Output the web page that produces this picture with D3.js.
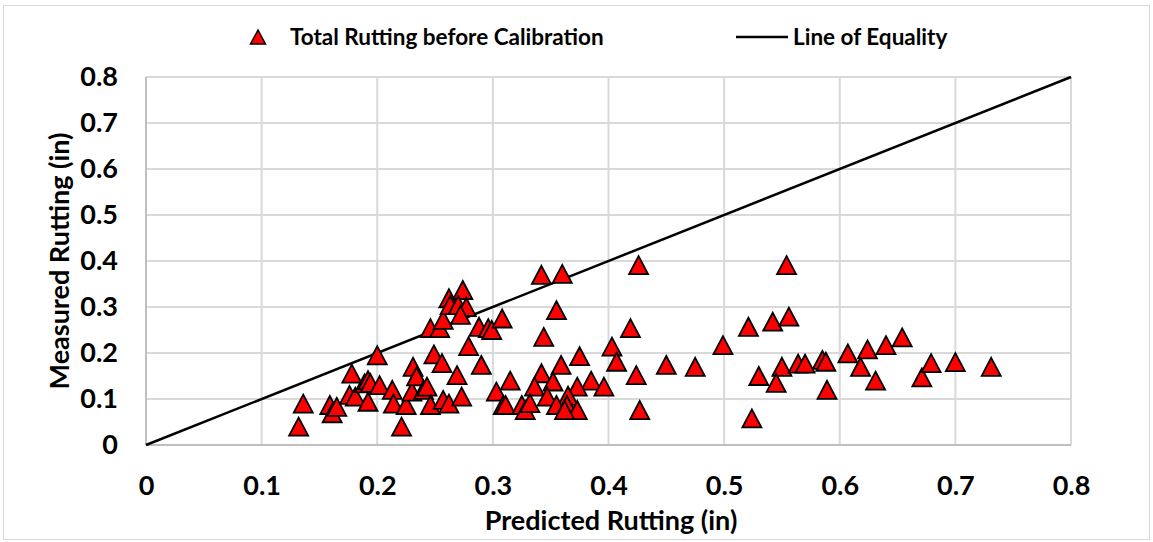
<!DOCTYPE html>
<html><head><meta charset="utf-8">
<script src="https://cdn.jsdelivr.net/npm/d3@7"></script>
<style>
html,body{margin:0;padding:0;background:#fff;}
svg{display:block;font-family:Lato,"Open Sans",sans-serif;}
</style></head><body>
<svg id="chart" width="1153" height="542"></svg>
<script>
const seriesName = "Total Rutting before Calibration";
const lineName = "Line of Equality";
const xTicks = [0,0.1,0.2,0.3,0.4,0.5,0.6,0.7,0.8];
const yTicks = [0,0.1,0.2,0.3,0.4,0.5,0.6,0.7,0.8];
const equalityLine = [[0,0],[0.8,0.8]];
const predicted = [
 0.132,0.136,0.159,0.161,0.165,0.178,0.176,0.181,0.189,0.192,0.194,0.200,0.202,0.192,0.213,0.214,0.221,0.225,0.230,0.231,
 0.234,0.240,0.243,0.246,0.249,0.256,0.269,0.257,0.262,0.273,0.246,0.254,0.257,0.262,0.263,0.274,0.270,0.277,0.272,0.288,
 0.296,0.299,0.308,0.279,0.290,0.303,0.309,0.342,0.360,0.355,0.344,0.375,0.359,0.342,0.385,0.352,0.336,0.373,0.315,0.347,
 0.365,0.311,0.325,0.328,0.332,0.355,0.364,0.373,0.362,0.426,0.419,0.403,0.407,0.424,0.396,0.427,0.450,0.475,0.499,0.521,
 0.542,0.556,0.554,0.530,0.550,0.545,0.524,0.564,0.570,0.585,0.588,0.589,0.607,0.618,0.624,0.631,0.640,0.654,0.671,0.679,
 0.700,0.731
];
const measured = [
 0.040,0.090,0.087,0.069,0.083,0.155,0.109,0.105,0.134,0.141,0.135,0.195,0.130,0.094,0.120,0.090,0.040,0.087,0.116,0.170,
 0.149,0.120,0.127,0.087,0.197,0.178,0.152,0.098,0.090,0.105,0.254,0.254,0.272,0.319,0.304,0.337,0.304,0.300,0.283,0.257,
 0.254,0.250,0.275,0.215,0.174,0.116,0.087,0.370,0.372,0.293,0.235,0.193,0.174,0.156,0.140,0.138,0.127,0.127,0.140,0.105,
 0.107,0.087,0.087,0.076,0.091,0.087,0.087,0.076,0.076,0.391,0.254,0.214,0.181,0.152,0.127,0.076,0.174,0.170,0.217,0.257,
 0.268,0.279,0.391,0.150,0.170,0.135,0.058,0.177,0.177,0.185,0.181,0.120,0.199,0.170,0.208,0.140,0.217,0.234,0.147,0.178,
 0.180,0.170
];

const svg = d3.select("#chart");
const m = {left:146, top:77, right:1071, bottom:445};
const FONT = "Lato, 'Open Sans', sans-serif";

svg.append("rect").attr("x",3.5).attr("y",5.5).attr("width",1146).attr("height",534)
  .attr("fill","#fff").attr("stroke","#d9d9d9").attr("stroke-width",1);

const x = d3.scaleLinear().domain([0,0.8]).range([m.left,m.right]);
const y = d3.scaleLinear().domain([0,0.8]).range([m.bottom,m.top]);

// gridlines
const g = svg.append("g");
g.selectAll(".vg").data(xTicks).join("line")
  .attr("x1",d=>x(d)).attr("x2",d=>x(d)).attr("y1",m.top).attr("y2",m.bottom)
  .attr("stroke","#d9d9d9").attr("stroke-width",2);
g.selectAll(".hg").data(yTicks).join("line")
  .attr("y1",d=>y(d)).attr("y2",d=>y(d)).attr("x1",m.left).attr("x2",m.right)
  .attr("stroke","#d9d9d9").attr("stroke-width",2);
svg.append("line").attr("x1",m.left).attr("x2",m.left).attr("y1",m.top).attr("y2",m.bottom).attr("stroke","#bfbfbf").attr("stroke-width",2);
svg.append("line").attr("x1",m.left).attr("x2",m.right).attr("y1",m.bottom).attr("y2",m.bottom).attr("stroke","#bfbfbf").attr("stroke-width",2);

const xAxis = d3.axisBottom(x).tickValues(xTicks).tickSize(0).tickPadding(31).tickFormat(d3.format("~g"));
const yAxis = d3.axisLeft(y).tickValues(yTicks).tickSize(0).tickPadding(28).tickFormat(d3.format("~g"));
const gx = svg.append("g").attr("transform",`translate(0,${m.bottom})`).call(xAxis);
const gy = svg.append("g").attr("transform",`translate(${m.left},0)`).call(yAxis);
[gx,gy].forEach(a=>{
  a.select(".domain").remove();
  a.selectAll("text").attr("font-family",FONT).attr("font-size",27)
   .attr("font-weight","bold").attr("fill","#000");
});
gx.selectAll("text").attr("dy","0.71em");

svg.append("path").datum(equalityLine)
  .attr("d",d3.line().x(d=>x(d[0])).y(d=>y(d[1])))
  .attr("stroke","#000").attr("stroke-width",2.5).attr("fill","none");

const tri = (cx,cy,w,h)=>`M${cx},${cy-h/2}L${cx+w/2},${cy+h/2}L${cx-w/2},${cy+h/2}Z`;
const pts = predicted.map((p,i)=>({x:p,y:measured[i]}));
svg.append("g").selectAll("path").data(pts).join("path")
  .attr("d",d=>tri(x(d.x),y(d.y),19,18))
  .attr("fill","#ff0000").attr("stroke","#000").attr("stroke-width",1.8).attr("stroke-linejoin","miter");

const lg = svg.append("g").attr("font-family",FONT).attr("font-weight","bold").attr("font-size",22.5);
lg.append("path").attr("d",tri(258,37,15,14)).attr("fill","#ff0000").attr("stroke","#000").attr("stroke-width",1.5);
lg.append("text").attr("x",290).attr("y",37).attr("dy","0.35em").text(seriesName);
lg.append("line").attr("x1",736).attr("x2",788).attr("y1",37).attr("y2",37).attr("stroke","#000").attr("stroke-width",2.5);
lg.append("text").attr("x",793).attr("y",37).attr("dy","0.35em").text(lineName);

svg.append("text").attr("x",611).attr("y",521).attr("dy","0.35em").attr("text-anchor","middle")
  .attr("font-family",FONT).attr("font-weight","bold").attr("font-size",27).text("Predicted Rutting (in)");
svg.append("text").attr("transform",`translate(60,${261}) rotate(-90)`).attr("dy","0.35em").attr("text-anchor","middle")
  .attr("font-family",FONT).attr("font-weight","bold").attr("font-size",27).text("Measured Rutting (in)");
</script>
</body></html>
